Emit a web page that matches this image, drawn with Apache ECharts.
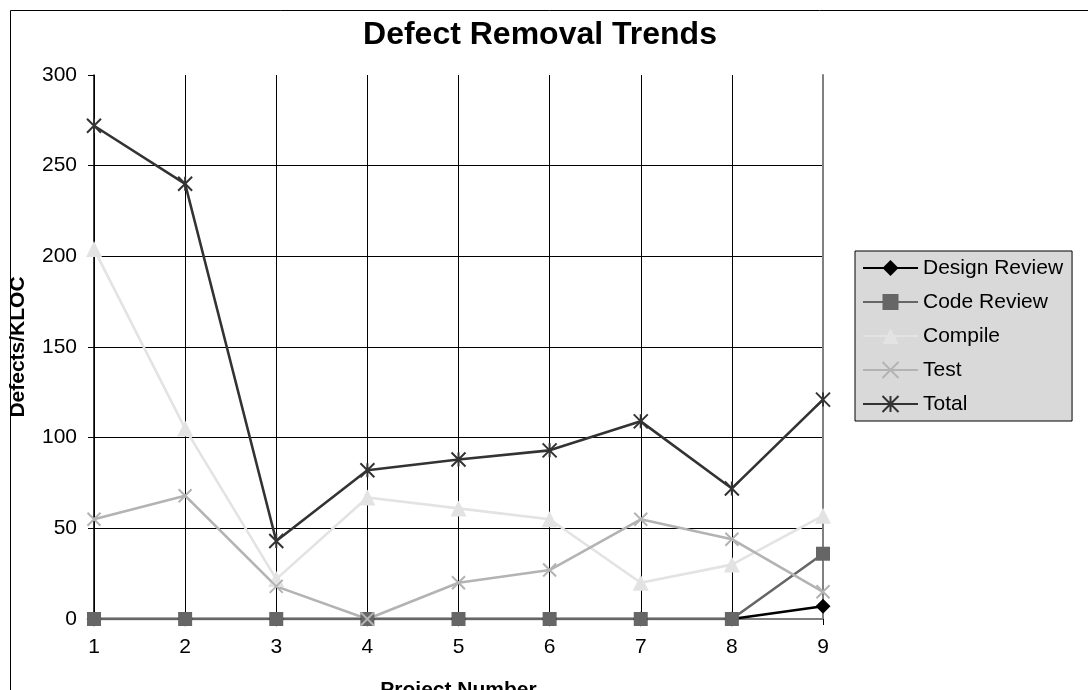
<!DOCTYPE html>
<html>
<head>
<meta charset="utf-8">
<script src="https://cdn.jsdelivr.net/npm/echarts@6/dist/echarts.min.js"></script>
<style>
  html, body { margin: 0; padding: 0; background: #ffffff; }
  #chart { width: 1088px; height: 690px; }
</style>
</head>
<body>
<div id="chart"></div>
<script>
// Defects found per KLOC in each removal phase, by project
const projects = ['1', '2', '3', '4', '5', '6', '7', '8', '9'];
const designReview = [0, 0, 0, 0, 0, 0, 0, 0, 7];
const codeReview   = [0, 0, 0, 0, 0, 0, 0, 0, 36];
const compile      = [204, 105, 22, 67, 61, 55, 20, 30, 57];
const test         = [55, 68, 18, 0, 20, 27, 55, 44, 15];
const total        = [272, 240, 43, 82, 88, 93, 109, 72, 121];

const FONT = '"Liberation Sans", Arial, sans-serif';

const crossPath = 'path://M0,0L10,10M10,0L0,10';
const starPath = 'path://M0,0L10,10M10,0L0,10M5,0L5,10';

function lineSeries(name, data, color, symbol, size, stroked) {
  return {
    name: name,
    type: 'line',
    data: data,
    symbol: symbol,
    symbolSize: size,
    showAllSymbol: true,
    lineStyle: { color: color, width: 2.6 },
    itemStyle: stroked
      ? { color: color, borderColor: color, borderWidth: 2 }
      : { color: color, borderWidth: 0 },
    emphasis: { disabled: true },
    animation: false
  };
}

const chart = echarts.init(document.getElementById('chart'), null, { renderer: 'canvas' });

chart.setOption({
  backgroundColor: '#ffffff',
  animation: false,
  title: {
    text: 'Defect Removal Trends',
    left: 535,
    top: 14,
    textAlign: 'center',
    textStyle: { fontFamily: FONT, fontSize: 32, fontWeight: 'bold', color: '#000' }
  },
  graphic: [{
    type: 'rect',
    shape: { x: 10.5, y: 10.5, width: 1100, height: 700 },
    style: { fill: 'none', stroke: '#000', lineWidth: 1 },
    silent: true,
    z: -1
  }],
  grid: {
    left: 94, top: 75, width: 729, height: 544,
    containLabel: false,
    outerBoundsMode: 'none'
  },
  legend: {
    orient: 'vertical',
    left: 855,
    top: 251,
    padding: [5, 9, 5, 7],
    itemWidth: 55,
    itemHeight: 20,
    itemGap: 10,
    backgroundColor: '#d9d9d9',
    borderColor: '#000',
    borderWidth: 1,
    textStyle: { fontFamily: FONT, fontSize: 21, color: '#000', lineHeight: 24 },
    data: ['Design Review', 'Code Review', 'Compile', 'Test', 'Total']
  },
  xAxis: [{
    type: 'category',
    data: projects,
    boundaryGap: false,
    name: 'Project Number',
    nameLocation: 'middle',
    nameGap: 61,
    nameTextStyle: { fontFamily: FONT, fontSize: 21, fontWeight: 'bold', color: '#000' },
    axisLine: { lineStyle: { color: '#000', width: 1.5 } },
    axisTick: { show: true, length: 6, lineStyle: { color: '#000' } },
    axisLabel: { fontFamily: FONT, fontSize: 21, color: '#000', margin: 18 },
    splitLine: { show: true, showMaxLine: false, lineStyle: { color: '#000', width: 1 } }
  }, {
    type: 'category',
    data: projects,
    boundaryGap: false,
    position: 'top',
    axisLine: { lineStyle: { color: '#808080', width: 2 } },
    axisTick: { show: false },
    axisLabel: { show: false },
    splitLine: { show: false }
  }],
  yAxis: [{
    type: 'value',
    min: 0,
    max: 300,
    interval: 50,
    name: 'Defects/KLOC',
    nameLocation: 'middle',
    nameGap: 65,
    nameTextStyle: { fontFamily: FONT, fontSize: 21, fontWeight: 'bold', color: '#000' },
    axisLine: { show: true, lineStyle: { color: '#000', width: 1.5 } },
    axisTick: { show: true, length: 6, lineStyle: { color: '#000' } },
    axisLabel: { fontFamily: FONT, fontSize: 21, color: '#000', margin: 17 },
    splitLine: { show: true, showMaxLine: false, lineStyle: { color: '#000', width: 1 } }
  }, {
    type: 'value',
    min: 0,
    max: 300,
    interval: 50,
    position: 'right',
    axisLine: { show: true, lineStyle: { color: '#808080', width: 2 } },
    axisTick: { show: false },
    axisLabel: { show: false },
    splitLine: { show: false }
  }],
  series: [
    lineSeries('Design Review', designReview, '#000000', 'diamond', 15, false),
    lineSeries('Code Review', codeReview, '#666666', 'rect', 14, false),
    lineSeries('Compile', compile, '#e3e3e3', 'triangle', 16, false),
    lineSeries('Test', test, '#b3b3b3', crossPath, 13, true),
    lineSeries('Total', total, '#333333', starPath, 14, true)
  ]
});
</script>
</body>
</html>
